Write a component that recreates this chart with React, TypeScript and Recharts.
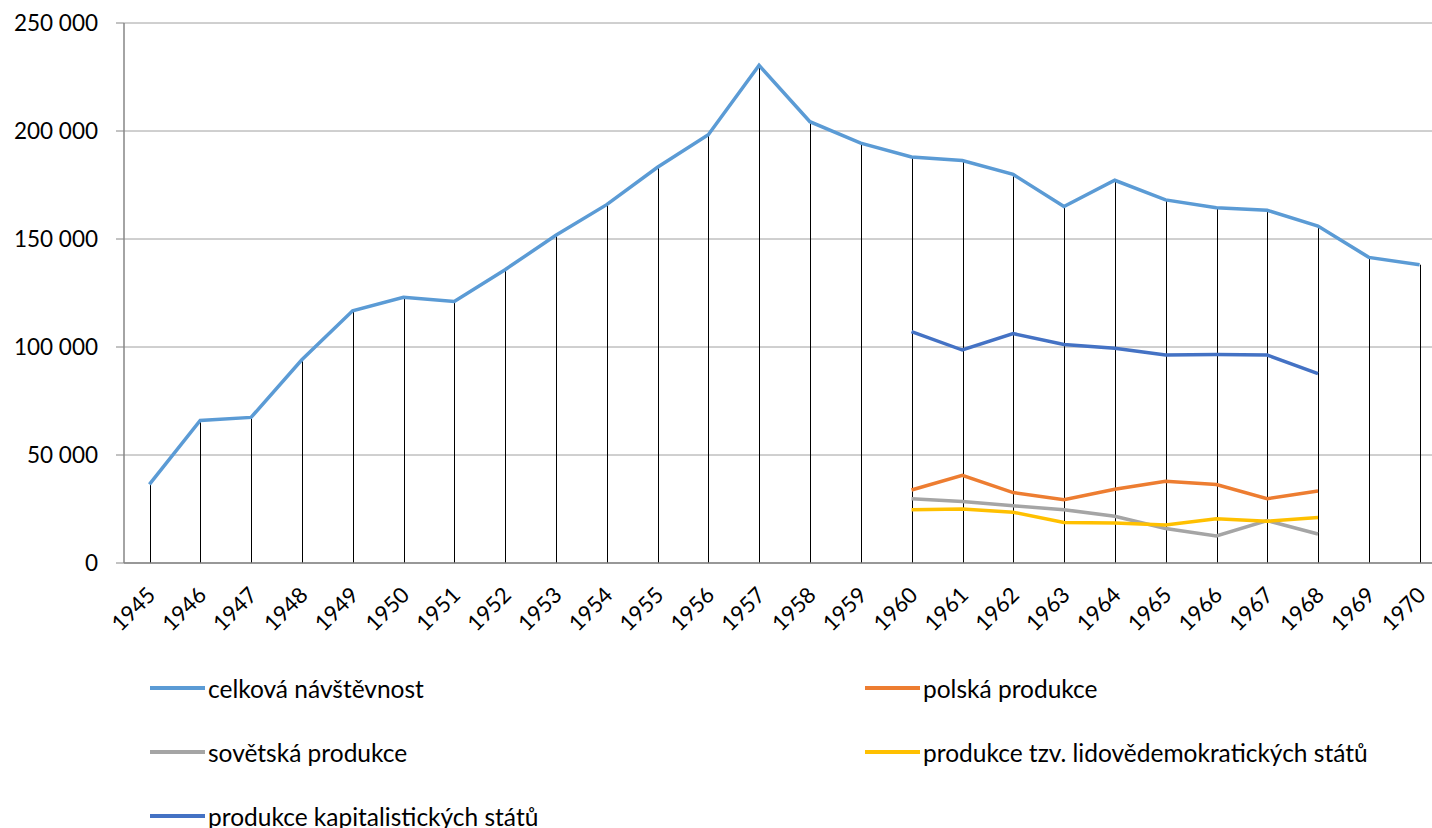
import { ComposedChart, Line, Bar, XAxis, YAxis, CartesianGrid, Legend } from 'recharts';

// Data
const years = [
  '1945', '1946', '1947', '1948', '1949', '1950', '1951', '1952', '1953', '1954', '1955', '1956', '1957',
  '1958', '1959', '1960', '1961', '1962', '1963', '1964', '1965', '1966', '1967', '1968', '1969', '1970',
];

const celkova = [
  36400, 66000, 67400, 94100, 116800, 123000, 121100, 135800, 151700, 165900, 183200, 198300, 230400,
  204300, 194400, 188000, 186300, 179900, 165000, 177200, 168100, 164500, 163300, 156000, 141500, 138100,
];

const empty15 = Array(15).fill(null);

const polska = [...empty15, 33800, 40600, 32600, 29300, 34100, 37800, 36300, 29800, 33300, null, null];
const sovetska = [...empty15, 29800, 28500, 26500, 24700, 21600, 16000, 12500, 19600, 13400, null, null];
const lidove = [...empty15, 24700, 25000, 23500, 18800, 18500, 17600, 20500, 19300, 21100, null, null];
const kapitalisticke = [...empty15, 107100, 98600, 106200, 101200, 99400, 96300, 96500, 96300, 87700, null, null];

const yTicks = [0, 50000, 100000, 150000, 200000, 250000];

const series = [
  { key: 'celkova', name: 'celková návštěvnost', color: '#5B9BD5' },
  { key: 'polska', name: 'polská produkce', color: '#ED7D31' },
  { key: 'sovetska', name: 'sovětská produkce', color: '#A5A5A5' },
  { key: 'lidove', name: 'produkce tzv. lidovědemokratických států', color: '#FFC000' },
  { key: 'kapitalisticke', name: 'produkce kapitalistických států', color: '#4472C4' },
];

const rows = years.map((year, i) => ({
  year,
  celkova: celkova[i],
  polska: polska[i],
  sovetska: sovetska[i],
  lidove: lidove[i],
  kapitalisticke: kapitalisticke[i],
}));

const FONT = 'Lato, "Liberation Sans", sans-serif';

const formatThousands = (v: number) => String(v).replace(/\B(?=(\d{3})+(?!\d))/g, ' ');

// vertical drop line from the top point down to the axis
const DropLine = (props: any) => {
  const { x, y, width, height } = props;
  if (height == null || height <= 0) return null;
  const cx = Math.round(x + width / 2) + 0.5;
  return <line x1={cx} x2={cx} y1={y} y2={y + height} stroke="#000" strokeWidth={1} />;
};

const YearTick = (props: any) => {
  const { x, y, payload } = props;
  return (
    <g transform={`translate(${x + 2},${y + 20})`}>
      <text
        x={0}
        y={0}
        dy="0.35em"
        textAnchor="end"
        transform="rotate(-45)"
        fill="#000"
        fontSize={22}
        fontFamily={FONT}
      >
        {payload.value}
      </text>
    </g>
  );
};

const renderLegend = () => (
  <div style={{ position: 'relative', height: 0 }}>
    {series.map((s, i) => {
      const col = i % 2;
      const row = Math.floor(i / 2);
      const left = col === 0 ? 150 : 865;
      const top = 688 + row * 64;
      return (
        <div
          key={s.key}
          style={{
            position: 'absolute',
            left,
            top: top - 16,
            height: 32,
            display: 'flex',
            alignItems: 'center',
            whiteSpace: 'nowrap',
            fontFamily: FONT,
            fontSize: 24.5,
            color: '#000',
          }}
        >
          <span style={{ display: 'inline-block', width: 55, height: 4, background: s.color, marginRight: 3 }} />
          <span>{s.name}</span>
        </div>
      );
    })}
  </div>
);

const App = () => {
  return (
    <div
      style={{
        position: 'absolute',
        left: 0,
        top: 0,
        width: 1432,
        height: 828,
        overflow: 'hidden',
        background: '#fff',
      }}
    >
      <ComposedChart width={1445} height={828} data={rows} margin={{ top: 23, right: 0, left: 0, bottom: 195 }}>
        <CartesianGrid vertical={false} stroke="#A0A0A0" strokeWidth={1} />
        <XAxis
          dataKey="year"
          height={70}
          interval={0}
          tickLine={false}
          axisLine={{ stroke: '#868686', strokeWidth: 1.5 }}
          tick={<YearTick />}
        />
        <YAxis
          width={124}
          domain={[0, 250000]}
          ticks={yTicks}
          tickFormatter={formatThousands}
          tickSize={8}
          tickMargin={18}
          tickLine={{ stroke: '#868686' }}
          axisLine={{ stroke: '#868686', strokeWidth: 1.5 }}
          tick={{ fill: '#000', fontSize: 22.5, fontFamily: FONT }}
        />
        <Bar dataKey="celkova" shape={<DropLine />} legendType="none" isAnimationActive={false} />
        {series.map((s) => (
          <Line
            key={s.key}
            type="linear"
            dataKey={s.key}
            name={s.name}
            stroke={s.color}
            strokeWidth={3.5}
            dot={false}
            activeDot={false}
            connectNulls={false}
            isAnimationActive={false}
          />
        ))}
        <Legend content={renderLegend} wrapperStyle={{ top: 0, left: 0, height: 0 }} />
      </ComposedChart>
    </div>
  );
};

export default App;
